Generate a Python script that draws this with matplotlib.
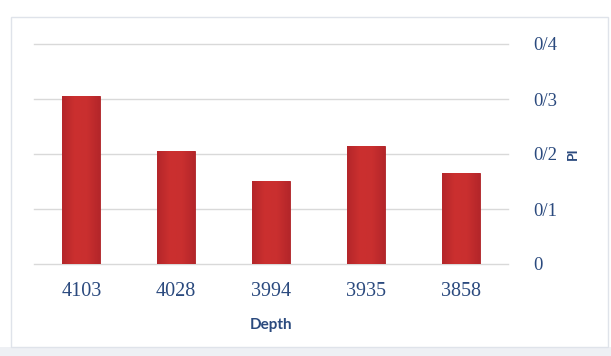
import numpy as np
import matplotlib.pyplot as plt
from matplotlib.patches import Rectangle
from matplotlib.colors import LinearSegmentedColormap

depths = ['4103', '4028', '3994', '3935', '3858']
pi_values = [0.305, 0.206, 0.151, 0.215, 0.165]
y_ticks = [0, 0.1, 0.2, 0.3, 0.4]
y_tick_labels = ['0', '0/1', '0/2', '0/3', '0/4']

navy = '#2b4a7e'

fig = plt.figure(figsize=(6.11, 3.56), dpi=100)
fig.patch.set_facecolor('white')

# light frame round the chart and grey strip under it
fig.add_artist(Rectangle((0, 0), 1, 9 / 356, transform=fig.transFigure,
                         facecolor='#eef0f4', edgecolor='none', zorder=0))
fig.add_artist(Rectangle((11 / 611, 9 / 356), 597 / 611, 330 / 356,
                         transform=fig.transFigure, facecolor='white',
                         edgecolor='#dfe3ea', linewidth=1.0, zorder=0))

ax = fig.add_axes([34 / 611, 92 / 356, 474 / 611, 220 / 356])
ax.set_facecolor('none')

x = np.arange(len(depths))
bars = ax.bar(x, pi_values, width=0.4, color='#c62d2c', edgecolor='#ad2225',
              linewidth=0.6, zorder=3)

# faint horizontal shading across each bar
shade = LinearSegmentedColormap.from_list('shade', ['#b4262a', '#cb302f', '#c92f2f', '#b4262a'])
grad = np.linspace(0, 1, 64).reshape(1, -1)
for b in bars:
    im = ax.imshow(grad, cmap=shade, aspect='auto', zorder=4,
                   extent=[b.get_x(), b.get_x() + b.get_width(), 0, b.get_height()])
    im.set_clip_path(b)

ax.set_yticks(y_ticks)
ax.set_yticklabels(y_tick_labels)
ax.yaxis.tick_right()
ax.yaxis.set_label_position('right')
ax.set_xticks(x)
ax.set_xticklabels(depths)

for s in ax.spines.values():
    s.set_visible(False)
ax.tick_params(axis='both', length=0, colors=navy)
ax.tick_params(axis='y', pad=18)
ax.tick_params(axis='x', pad=13)
for lbl in ax.get_xticklabels() + ax.get_yticklabels():
    lbl.set_fontfamily('Liberation Serif')
    lbl.set_fontsize(14.5)
for lbl in ax.get_yticklabels():
    lbl.set_horizontalalignment('left')
    lbl.set_fontsize(13.5)

for yv in y_ticks:
    ax.axhline(yv, color='#d9d9d9', linewidth=1.0, zorder=1, clip_on=False)

ax.set_xlabel('Depth', fontfamily='Lato', fontweight='bold', fontsize=11,
              color=navy, labelpad=12)
ax.set_ylabel('PI', fontfamily='Lato', fontweight='bold', fontsize=10,
              color=navy, rotation=90, labelpad=7)
ax.set_xlim(-0.5, 4.5)
ax.set_ylim(0, 0.4)

fig.savefig('out.png', dpi=100)
